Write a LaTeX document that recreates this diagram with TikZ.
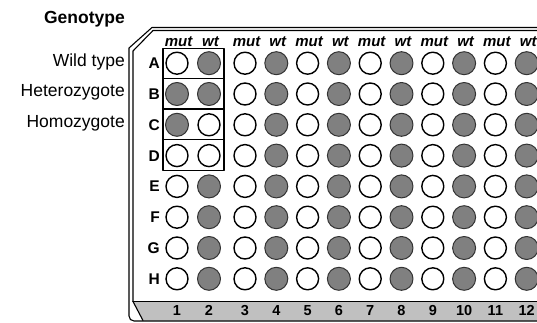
\documentclass[tikz,border=0pt]{standalone}
\usepackage{fontspec}
\setmainfont{Liberation Sans}
\definecolor{wellgray}{HTML}{808080}
\definecolor{stripgray}{HTML}{C0C0C0}
\begin{document}
\begin{tikzpicture}[x=1pt,y=-1pt, line join=round, line cap=round,
	ltwell/.style={circle,draw=black,fill=white,line width=1.4pt,minimum size=22pt,inner sep=0pt},
	dkwell/.style={circle,draw=black!80,fill=wellgray,line width=1pt,minimum size=23pt,inner sep=0pt},
	rowlab/.style={font=\fontsize{15.5}{18}\selectfont\bfseries, anchor=base east, inner sep=0pt},
	collab/.style={font=\fontsize{14.5}{17}\selectfont\bfseries, anchor=base, inner sep=0pt},
	genlab/.style={font=\fontsize{17.5}{20}\selectfont, anchor=base east, inner sep=0pt}]
	\useasboundingbox (0,0) rectangle (537,323);
	% plate
	\fill[stripgray] (133,301.5)--(537,301.5)--(537,320.5)--(143,320.5)--cycle;
	\draw[line width=1.1pt] (133,301.5)--(537,301.5);
	\draw[line width=1.1pt] (133,301.5)--(143,320.5);
	\draw[line width=1.1pt] (537,27.5)--(152,27.5)--(129,48)--(129,316) to[out=-90,in=180] (134,321)--(537,321);
	\draw[line width=1.1pt] (537,30.5)--(153,30.5)--(133,51)--(133,301.5);
	% genotype boxes
	\draw[line width=1.2pt] (163,48.5) rectangle (224,170.5);
	\foreach \y in {78.5,109,139.5} \draw[line width=1.2pt] (163,\y)--(224,\y);
	% labels
	\node[genlab,font=\fontsize{17.5}{20}\selectfont\bfseries] (geno) at (125,24) {Genotype};
	\node[genlab] (wt-lab) at (125,67) {Wild type};
	\node[genlab] (het-lab) at (125,97) {Heterozygote};
	\node[genlab] (hom-lab) at (125,127.5) {Homozygote};
	% wells
	\foreach \r/\y/\a/\b in {A/63.2/ltwell/dkwell, B/94/dkwell/dkwell, C/124.8/dkwell/ltwell, D/155.6/ltwell/ltwell,
		E/186.4/ltwell/dkwell, F/217.2/ltwell/dkwell, G/248/ltwell/dkwell, H/278.8/ltwell/dkwell}{
		\node[rowlab] (lab-\r) at (160,\y+5.5) {\r};
		\node[\a] (w-\r-1) at (177,\y) {};
		\node[\b] (w-\r-2) at (209,\y) {};
		\foreach \c/\x/\s in {3/245/ltwell,4/276.3/dkwell,5/307.6/ltwell,6/338.9/dkwell,7/370.2/ltwell,
			8/401.5/dkwell,9/432.8/ltwell,10/464.1/dkwell,11/495.4/ltwell,12/526.7/dkwell}
			\node[\s] (w-\r-\c) at (\x,\y) {};
	}
	% column heads and numbers
	\foreach \c/\x/\t in {1/177/mut,2/209/wt,3/245/mut,4/276.3/wt,5/307.6/mut,6/338.9/wt,7/370.2/mut,
		8/401.5/wt,9/432.8/mut,10/464.1/wt,11/495.4/mut,12/526.7/wt}{
		\node[collab,font=\fontsize{15}{17}\selectfont\bfseries\itshape] (head-\c) at (\x+1.5,46.5) {\t};
		\node[collab] (num-\c) at (\x,315.5) {\c};
	}
\end{tikzpicture}
\end{document}
